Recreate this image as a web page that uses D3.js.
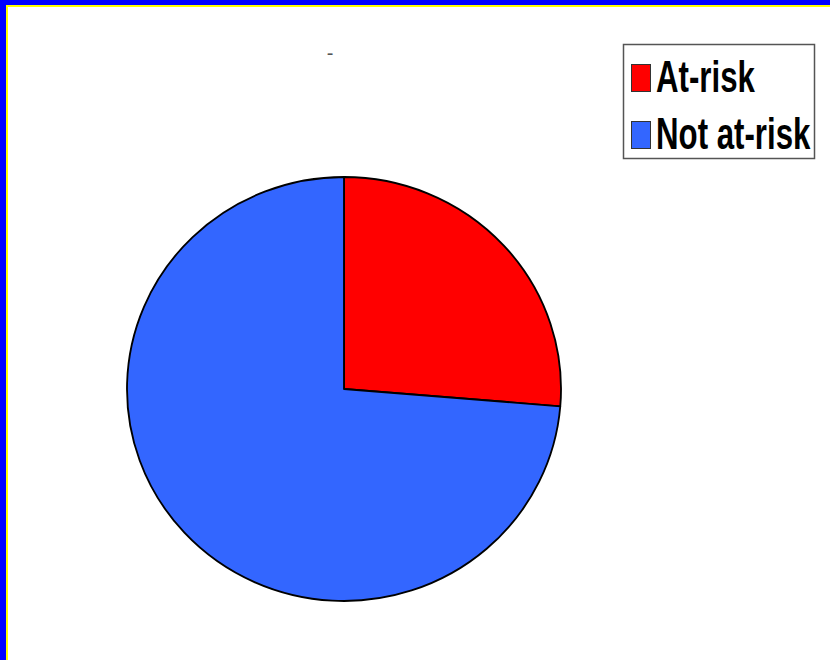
<!DOCTYPE html>
<html>
<head>
<meta charset="utf-8">
<script src="https://cdn.jsdelivr.net/npm/d3@7/dist/d3.min.js"></script>
<style>
  html, body { margin: 0; padding: 0; background: #fff; }
  svg { display: block; }
</style>
</head>
<body>
<svg id="chart" width="830" height="660"></svg>
<script>
// Share of respondents in each risk group (percent)
const categories = ["At-risk", "Not at-risk"];
const values = [26.3, 73.7];
const colors = ["#ff0000", "#3366ff"];
const title = "-";

const svg = d3.select("#chart");

// Frame: blue outer band with a thin yellow inner band (left and top)
svg.append("rect").attr("x", 0).attr("y", 0).attr("width", 830).attr("height", 660).attr("fill", "#0000ff");
svg.append("rect").attr("x", 6).attr("y", 5).attr("width", 824).attr("height", 655).attr("fill", "#ffff00");
svg.append("rect").attr("x", 8).attr("y", 7).attr("width", 822).attr("height", 653).attr("fill", "#ffffff");

// Title
svg.append("text")
  .attr("x", 330).attr("y", 60)
  .attr("text-anchor", "middle")
  .attr("font-family", "Liberation Sans, Arial, sans-serif")
  .attr("font-size", 20)
  .attr("fill", "#555")
  .text(title);

// Pie (very slightly wider than tall)
const cx = 344, cy = 389, ry = 212, rx = 217;
const pie = d3.pie().sort(null).value(d => d)(values);
const arc = d3.arc().innerRadius(0).outerRadius(ry);

const g = svg.append("g")
  .attr("transform", `translate(${cx},${cy}) scale(${rx / ry},1)`);

g.selectAll("path")
  .data(pie)
  .join("path")
  .attr("d", arc)
  .attr("fill", (d, i) => colors[i])
  .attr("stroke", "#000")
  .attr("stroke-width", 1.8)
  .attr("stroke-linejoin", "round");

// Legend
const legend = svg.append("g");
legend.append("rect")
  .attr("x", 623.5).attr("y", 44.5)
  .attr("width", 191).attr("height", 114)
  .attr("fill", "#fff")
  .attr("stroke", "#555").attr("stroke-width", 1.5);

const rowY = [64, 121];
const items = legend.selectAll("g.item")
  .data(categories)
  .join("g").attr("class", "item");

items.append("rect")
  .attr("x", 631.5).attr("y", (d, i) => rowY[i] + 0.5)
  .attr("width", 19).attr("height", 27)
  .attr("fill", (d, i) => colors[i])
  .attr("stroke", "#333").attr("stroke-width", 1);

// Condensed bold labels (horizontally squeezed)
items.append("text")
  .attr("transform", (d, i) => `translate(656,${rowY[i] + 28}) scale(0.71,1)`)
  .attr("font-family", "Liberation Sans, Arial, sans-serif")
  .attr("font-weight", "bold")
  .attr("font-size", 44)
  .attr("fill", "#000")
  .text(d => d);
</script>
</body>
</html>
